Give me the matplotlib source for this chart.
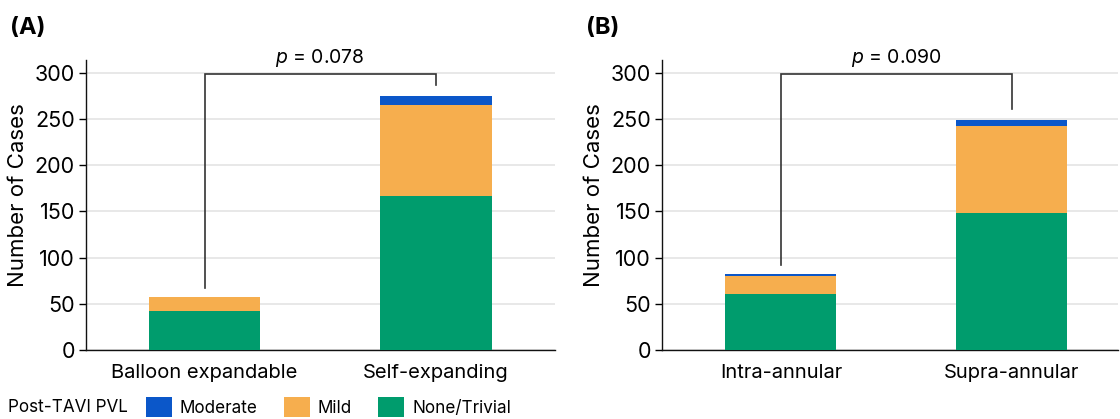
import matplotlib
matplotlib.use("Agg")
import matplotlib.pyplot as plt
from matplotlib.patches import Patch
import numpy as np

plt.rcParams['font.family'] = ['Inter', 'DejaVu Sans']
plt.rcParams['mathtext.fontset'] = 'custom'
plt.rcParams['mathtext.rm'] = 'Inter'
plt.rcParams['mathtext.it'] = 'Inter:italic'

# Data
cats_a = ["Balloon expandable", "Self-expanding"]
none_a = [42, 167]
mild_a = [15, 98]
mod_a = [0, 10]
p_a = "0.078"

cats_b = ["Intra-annular", "Supra-annular"]
none_b = [61, 148]
mild_b = [19, 94]
mod_b = [2, 7]
p_b = "0.090"

series_labels = ["Moderate", "Mild", "None/Trivial"]
colors = {"Moderate": "#0B57C9", "Mild": "#F6AE4E", "None/Trivial": "#009C6D"}
yticks = [0, 50, 100, 150, 200, 250, 300]

fig = plt.figure(figsize=(11.2, 4.19), dpi=100)
ax_a = fig.add_axes([86/1120, 69/419, (555-86)/1120, 290/419])
ax_b = fig.add_axes([662/1120, 69/419, (1118-662)/1120, 290/419])


def panel(ax, cats, none, mild, mod, pval, xlim):
    x = np.arange(len(cats))
    none = np.array(none); mild = np.array(mild); mod = np.array(mod)
    w = 0.48
    ax.bar(x, none, w, color=colors["None/Trivial"], zorder=3)
    ax.bar(x, mild, w, bottom=none, color=colors["Mild"], zorder=3)
    ax.bar(x, mod, w, bottom=none + mild, color=colors["Moderate"], zorder=3)
    ax.set_xlim(*xlim)
    ax.set_ylim(0, 314)
    ax.set_yticks(yticks)
    ax.set_xticks(x)
    ax.set_xticklabels(cats, fontsize=14.5)
    ax.tick_params(axis='x', length=0, pad=10)
    ax.tick_params(axis='y', length=5, width=1, labelsize=15.5, pad=3)
    ax.yaxis.grid(True, color="#e6e6e6", linewidth=1.3, zorder=0)
    ax.set_axisbelow(True)
    for s in ["top", "right"]:
        ax.spines[s].set_visible(False)
    for s in ["left", "bottom"]:
        ax.spines[s].set_linewidth(1.0)
        ax.spines[s].set_color("#111111")
    ax.set_ylabel("Number of Cases", fontsize=16)
    ax.yaxis.set_label_coords(-58 / (ax.get_position().width * 1120), 0.535)
    tot = none + mild + mod
    top = 299
    ax.plot([x[0], x[0], x[1], x[1]], [tot[0] + 10, top, top, tot[1] + 12],
            color="#333333", linewidth=1.2, zorder=4, solid_joinstyle='miter')
    ax.text((x[0] + x[1]) / 2, top + 5, "$p$ = " + pval, ha="center", va="bottom",
            fontsize=14, clip_on=False)


panel(ax_a, cats_a, none_a, mild_a, mod_a, p_a, (-0.512, 1.514))
panel(ax_b, cats_b, none_b, mild_b, mod_b, p_b, (-0.515, 1.46))

fig.text(10/1120, 1 - 28/419, "(A)", fontsize=17, fontweight="bold", va="center", ha="left")
fig.text(586/1120, 1 - 28/419, "(B)", fontsize=17, fontweight="bold", va="center", ha="left")

fig.text(8/1120, 1 - 407/419, "Post-TAVI PVL", fontsize=12.3, va="center", ha="left")
handles = [Patch(facecolor=colors[s], edgecolor="none") for s in series_labels]
fig.legend(handles, series_labels, loc="center left", bbox_to_anchor=(146/1120, 1 - 407/419),
           ncol=3, frameon=False, fontsize=12.3, handlelength=1.52, handleheight=1.36,
           handletextpad=0.47, columnspacing=1.52, borderaxespad=0, borderpad=0)

fig.savefig("out.png", dpi=100)
